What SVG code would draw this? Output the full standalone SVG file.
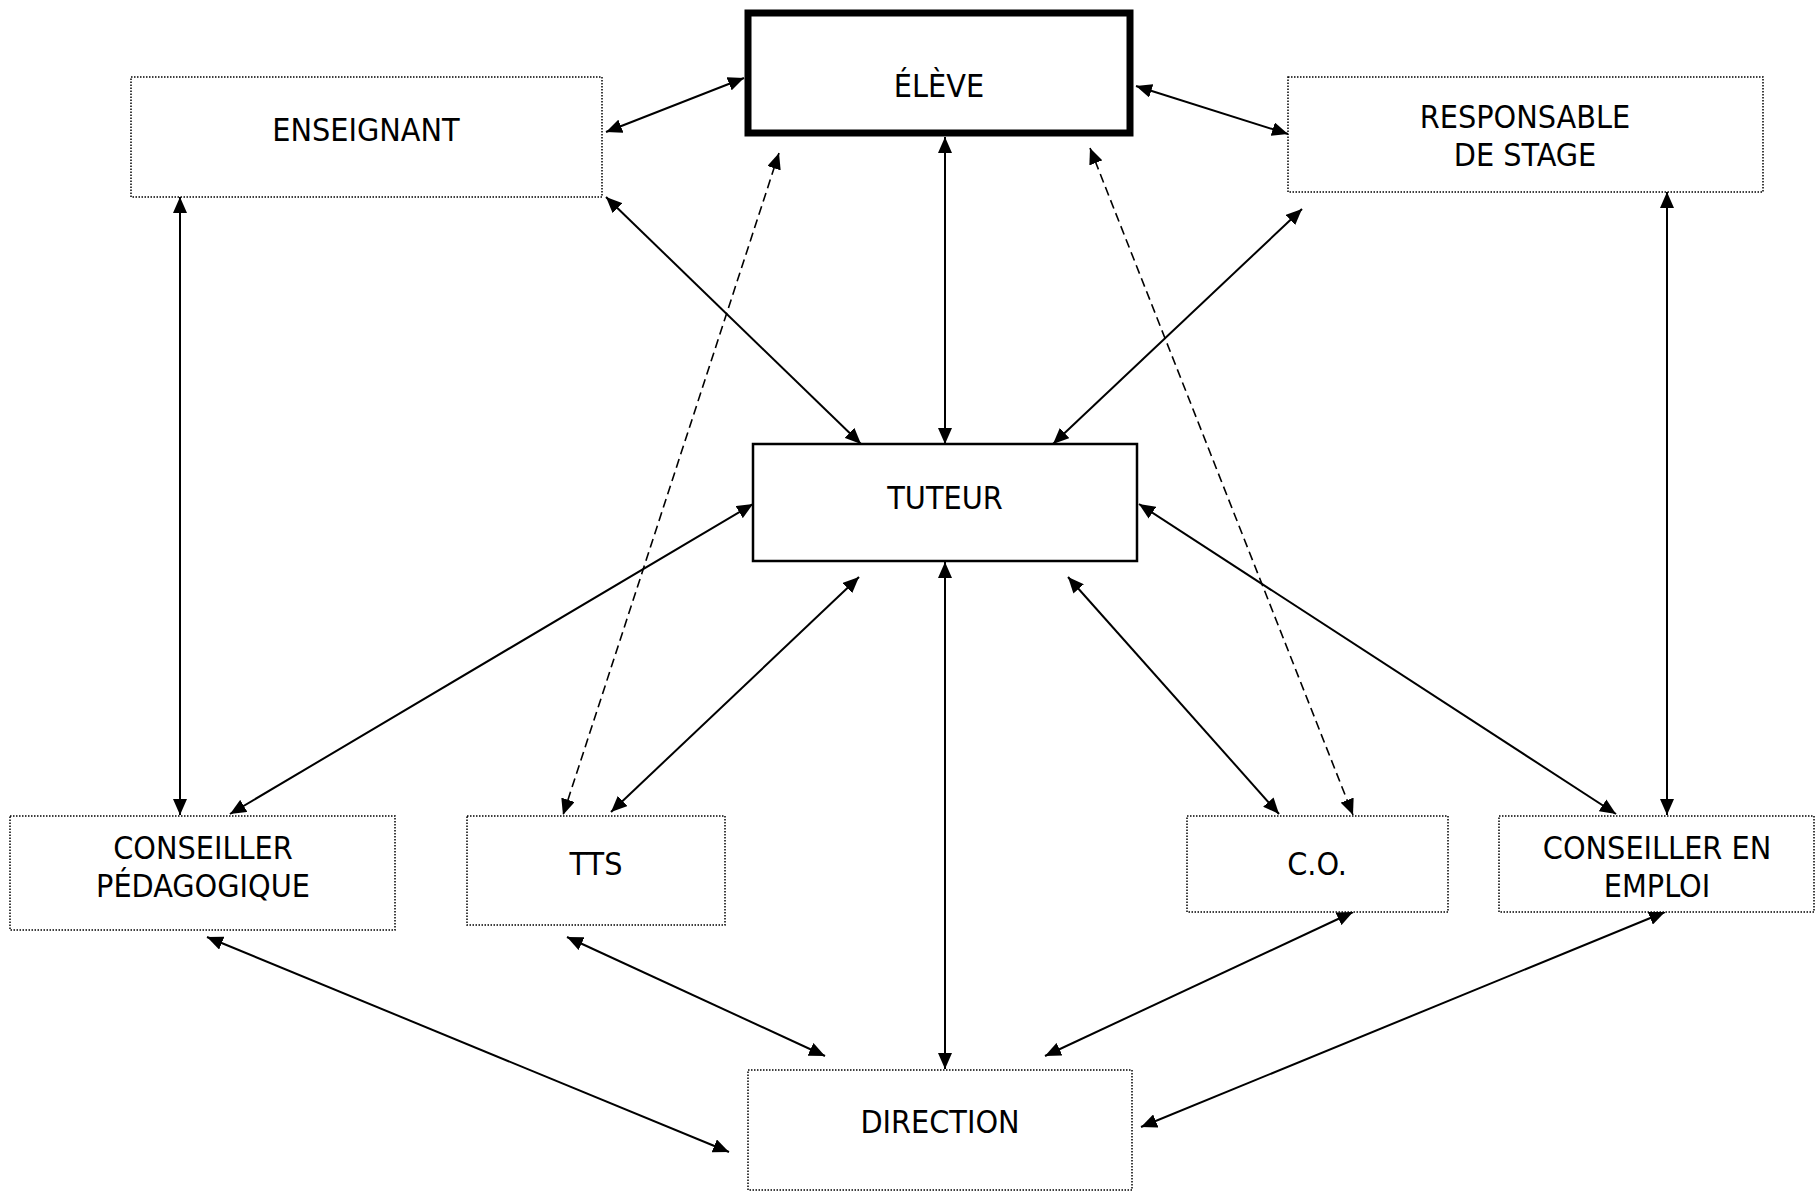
<svg xmlns="http://www.w3.org/2000/svg" width="1817" height="1191" viewBox="0 0 1817 1191">
<style>
.lbl{font-family:"DejaVu Sans Condensed","DejaVu Sans","Liberation Sans",sans-serif;font-size:32px;fill:#000;text-anchor:middle}
.dot{fill:#fff;stroke:#000;stroke-width:1.5;stroke-dasharray:1.5 1.5}
.solid{fill:#fff;stroke:#000;stroke-width:2.5}
.thick{fill:#fff;stroke:#000;stroke-width:7}
.c{stroke:#000;stroke-width:2;fill:none;marker-start:url(#ah);marker-end:url(#ah)}
.d{stroke:#000;stroke-width:1.6;fill:none;stroke-dasharray:9 5;marker-start:url(#ah);marker-end:url(#ah)}
</style>
<defs>
<marker id="ah" markerUnits="userSpaceOnUse" markerWidth="17" markerHeight="14" refX="16" refY="7" orient="auto-start-reverse">
<path d="M0,0 L16,7 L0,14 z" fill="#000"/>
</marker>
</defs>
<rect width="1817" height="1191" fill="#fff"/>
<g id="connectors">
<line class="c" x1="606" y1="132" x2="744" y2="78"/>
<line class="c" x1="1136" y1="86" x2="1288" y2="134"/>
<line class="c" x1="945" y1="137" x2="945" y2="444"/>
<line class="d" x1="779" y1="153" x2="563" y2="815"/>
<line class="d" x1="1090" y1="148" x2="1353" y2="815"/>
<line class="c" x1="606" y1="197" x2="861" y2="444"/>
<line class="c" x1="1302" y1="209" x2="1053" y2="444"/>
<line class="c" x1="180" y1="197" x2="180" y2="815"/>
<line class="c" x1="1667" y1="192" x2="1667" y2="815"/>
<line class="c" x1="753" y1="504" x2="230" y2="814"/>
<line class="c" x1="859" y1="577" x2="611" y2="812"/>
<line class="c" x1="945" y1="562" x2="945" y2="1069"/>
<line class="c" x1="1068" y1="577" x2="1279" y2="814"/>
<line class="c" x1="1139" y1="504" x2="1616" y2="814"/>
<line class="c" x1="207" y1="937" x2="729" y2="1152"/>
<line class="c" x1="567" y1="937" x2="825" y2="1056"/>
<line class="c" x1="1353" y1="912" x2="1045" y2="1056"/>
<line class="c" x1="1665" y1="912" x2="1141" y2="1127"/>
</g>
<g id="eleve">
<rect class="thick" x="748" y="13" width="382" height="120"/>
<text class="lbl" x="939" y="97">ÉLÈVE</text>
</g>
<g id="enseignant">
<rect class="dot" x="131" y="77" width="471" height="120"/>
<text class="lbl" x="366" y="141">ENSEIGNANT</text>
</g>
<g id="responsable">
<rect class="dot" x="1288" y="77" width="475" height="115"/>
<text class="lbl" x="1525" y="128">RESPONSABLE</text>
<text class="lbl" x="1525" y="166">DE STAGE</text>
</g>
<g id="tuteur">
<rect class="solid" x="753" y="444" width="384" height="117"/>
<text class="lbl" x="945" y="509">TUTEUR</text>
</g>
<g id="conseiller-pedagogique">
<rect class="dot" x="10" y="816" width="385" height="114"/>
<text class="lbl" x="203" y="859">CONSEILLER</text>
<text class="lbl" x="203" y="897">PÉDAGOGIQUE</text>
</g>
<g id="tts">
<rect class="dot" x="467" y="816" width="258" height="109"/>
<text class="lbl" x="596" y="875">TTS</text>
</g>
<g id="co">
<rect class="dot" x="1187" y="816" width="261" height="96"/>
<text class="lbl" x="1317" y="875">C.O.</text>
</g>
<g id="conseiller-emploi">
<rect class="dot" x="1499" y="816" width="315" height="96"/>
<text class="lbl" x="1657" y="859">CONSEILLER EN</text>
<text class="lbl" x="1657" y="897">EMPLOI</text>
</g>
<g id="direction">
<rect class="dot" x="748" y="1070" width="384" height="120"/>
<text class="lbl" x="940" y="1133">DIRECTION</text>
</g>
</svg>
